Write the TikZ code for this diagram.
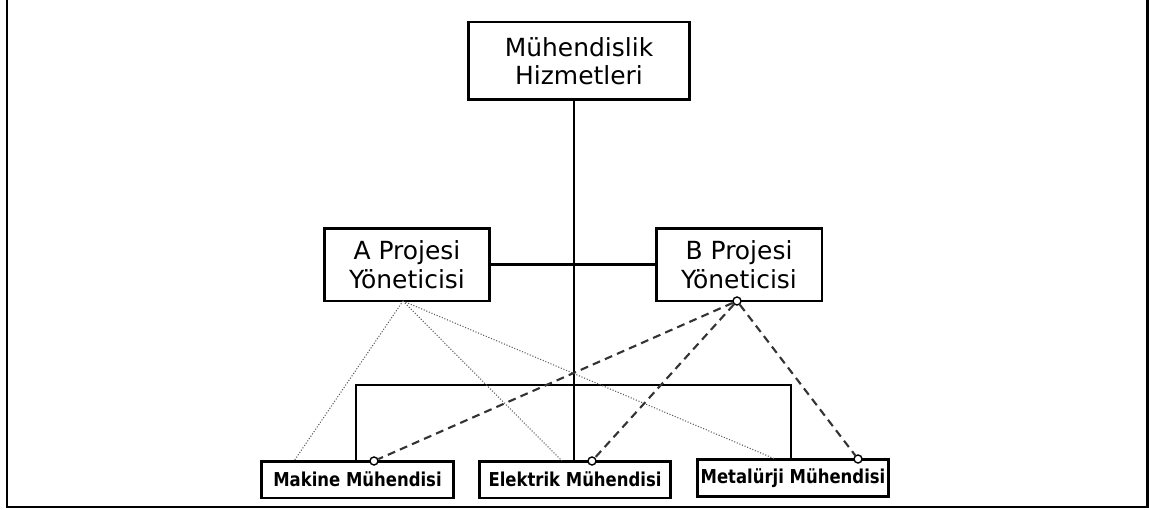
\documentclass[tikz,border=0pt]{standalone}
\usepackage{fontspec}
\setmainfont{DejaVu Sans}
\newfontfamily\darfont[FakeStretch=0.86]{DejaVu Sans}
\begin{document}
\begin{tikzpicture}[x=0.02cm, y=-0.02cm,
    kutu/.style={draw, line width=1.7pt, align=center, inner sep=0pt,
        font=\fontsize{14.2}{16.2}\selectfont},
    altkutu/.style={draw, line width=1.7pt, inner sep=0pt,
        minimum width=3.83cm, minimum height=0.74cm,
        font=\darfont\bfseries\fontsize{10.9}{13}\selectfont},
    bag/.style={line width=1.5pt},
    nokta/.style={densely dotted, line width=0.6pt, black!65},
    kesik/.style={dash pattern=on 4.5pt off 3pt, line width=1.2pt, black!80},
    halka/.style={circle, draw, fill=white, line width=0.8pt,
        minimum size=0.16cm, inner sep=0pt}]
    \useasboundingbox (0,0) rectangle (1149,510);
    % çerçeve
    \draw[line width=1.7pt] (7,0) -- (7,507) -- (1147,507) -- (1147,0);
    % kutular
    \node[kutu, minimum width=4.44cm, minimum height=1.56cm] (muh) at (579,61) {Mühendislik\\Hizmetleri};
    \node[kutu, minimum width=3.32cm, minimum height=1.46cm] (pa) at (407,264.5) {A Projesi\\Yöneticisi};
    \node[kutu, minimum width=3.32cm, minimum height=1.46cm] (pb) at (739,264.5) {B Projesi\\Yöneticisi};
    \node[altkutu] (mak) at (357.5,479.5) {Makine Mühendisi};
    \node[altkutu] (elk) at (575,479.5) {Elektrik Mühendisi};
    \node[altkutu] (met) at (793,478) {Metalürji Mühendisi};
    % ana hat
    \coordinate (govde) at (574,0);
    \coordinate (solbag) at (356,385);
    \coordinate (sagbag) at (791,385);
    \draw[bag] (muh.south -| govde) -- (elk.north -| govde);
    \draw[bag] (pa.east) -- (pb.west);
    \draw[bag] (mak.north -| solbag) -- (solbag) -- (sagbag) -- (met.north -| sagbag);
    % A projesi (noktalı)
    \coordinate (ua) at (403,301);
    \draw[nokta] (ua) -- (294,461);
    \draw[nokta] (ua) -- (562,461);
    \draw[nokta] (ua) -- (775,459);
    % B projesi (kesikli)
    \node[halka] (ub) at (737,301) {};
    \node[halka] (h1) at (374,461) {};
    \node[halka] (h2) at (592,461) {};
    \node[halka] (h3) at (858,459) {};
    \draw[kesik] (ub) -- (h1);
    \draw[kesik] (ub) -- (h2);
    \draw[kesik] (ub) -- (h3);
\end{tikzpicture}
\end{document}
